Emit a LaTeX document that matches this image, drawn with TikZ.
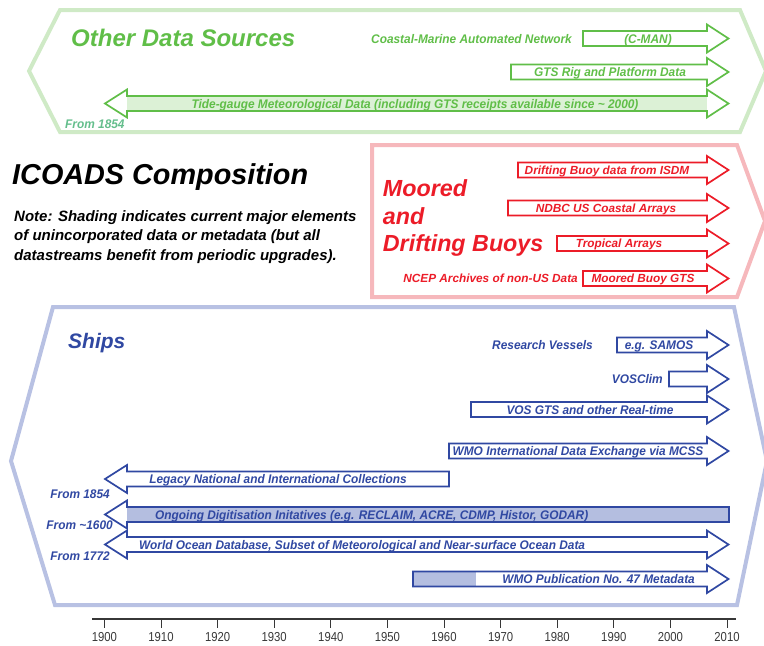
\documentclass[tikz,border=0pt]{standalone}
\usepackage{fontspec}
\setmainfont{Liberation Sans}
\newfontfamily\condf[FakeStretch=0.95]{Liberation Sans}
\newfontfamily\numf[FakeStretch=0.87]{Liberation Sans}
\definecolor{grn}{RGB}{96,190,72}
\definecolor{grnlt}{RGB}{207,234,198}
\definecolor{grnfill}{RGB}{220,241,214}
\definecolor{grnteal}{RGB}{100,190,140}
\definecolor{rd}{RGB}{236,28,40}
\definecolor{rdlt}{RGB}{246,184,188}
\definecolor{blu}{RGB}{48,72,162}
\definecolor{blult}{RGB}{184,193,227}
\definecolor{blufill}{RGB}{180,190,224}
\definecolor{axc}{RGB}{55,55,55}
\newcommand\rarr[4]{\draw[#4] (#1,#3-7.5) -- (#2,#3-7.5) -- (#2,#3-14) -- (#2+21.5,#3) -- (#2,#3+14) -- (#2,#3+7.5) -- (#1,#3+7.5) -- cycle;}
\newcommand\darr[4]{\draw[#4] (#1,#3) -- (#1+22,#3-14) -- (#1+22,#3-7.5) -- (#2,#3-7.5) -- (#2,#3-14) -- (#2+21.5,#3) -- (#2,#3+14) -- (#2,#3+7.5) -- (#1+22,#3+7.5) -- (#1+22,#3+14) -- cycle;}
\newcommand\larr[4]{\draw[#4] (#1,#3) -- (#1+22,#3-14) -- (#1+22,#3-7.5) -- (#2,#3-7.5) -- (#2,#3+7.5) -- (#1+22,#3+7.5) -- (#1+22,#3+14) -- cycle;}
\tikzset{
  arrline/.style={line width=1.7pt, line join=miter},
  garr/.style={arrline, draw=grn},
  rarrow/.style={arrline, draw=rd},
  barr/.style={arrline, draw=blu},
  panel/.style={line width=4pt, line join=miter},
  small/.style={inner sep=0pt, anchor=base, font=\condf\bfseries\itshape\fontsize{12.5}{14}\selectfont},
  glbl/.style={small, text=grn},
  blbl/.style={small, text=blu},
  rlbl/.style={inner sep=0pt, anchor=base, text=rd, font=\bfseries\itshape\fontsize{11.8}{14}\selectfont},
  yearlbl/.style={inner sep=0pt, anchor=base, text=axc, font=\numf\fontsize{13}{14}\selectfont},
}
\begin{document}
\begin{tikzpicture}[x=1pt,y=-1pt]
\useasboundingbox (0,0) rectangle (764,646);
% ---------- green panel ----------
\draw[panel, draw=grnlt] (60,10) -- (740,10) -- (766,71) -- (740,132) -- (60,132) -- (29,71) -- cycle;
\node[anchor=base west, inner sep=0pt, text=grn, font=\bfseries\itshape\fontsize{24}{28}\selectfont] (gtitle) at (71,46.7) {Other Data Sources};
\rarr{583}{707}{38.5}{garr}
\node[glbl, anchor=base east] (cmanlbl) at (572,43) {Coastal-Marine Automated Network};
\node[glbl] (cman) at (648,43) {(C-MAN)};
\rarr{511}{707}{72}{garr}
\node[glbl] (gtsrig) at (610,76.5) {GTS Rig and Platform Data};
\fill[grnfill] (127,96) rectangle (707,111);
\darr{105}{707}{103.5}{garr}
\node[glbl] (tide) at (415,108) {Tide-gauge Meteorological Data (including GTS receipts available since \textasciitilde{} 2000)};
\node[small, anchor=base west, text=grnteal] (gfrom) at (65,128.5) {From 1854};
% ---------- title and note ----------
\node[anchor=base west, inner sep=0pt, font=\bfseries\itshape\fontsize{28.8}{32}\selectfont] (title) at (12,184.5) {ICOADS Composition};
\node[anchor=base west, inner sep=0pt, align=left, font=\bfseries\itshape\fontsize{15}{19.5}\selectfont] (note) at (14,260) {Note: Shading indicates current major elements\\of unincorporated data or metadata (but all\\datastreams benefit from periodic upgrades).};
% ---------- red panel ----------
\draw[panel, draw=rdlt] (372,145) -- (737,145) -- (765,221) -- (737,297) -- (372,297) -- cycle;
\node[anchor=base west, inner sep=0pt, align=left, text=rd, font=\bfseries\itshape\fontsize{23.3}{27.5}\selectfont] (rtitle) at (382.7,251.7) {Moored\\and\\Drifting Buoys};
\rarr{518}{707}{170}{rarrow}
\node[rlbl] (isdm) at (607,174.2) {Drifting Buoy data from ISDM};
\rarr{508}{707}{208}{rarrow}
\node[rlbl] (ndbc) at (606,212.2) {NDBC US Coastal Arrays};
\rarr{557}{707}{243.5}{rarrow}
\node[rlbl] (trop) at (619,247.7) {Tropical Arrays};
\rarr{583}{707}{278.5}{rarrow}
\node[rlbl] (mgts) at (643,282.7) {Moored Buoy GTS};
\node[rlbl, anchor=base east] (ncep) at (578,282.7) {NCEP Archives of non-US Data};
% ---------- blue panel ----------
\draw[panel, draw=blult] (53,307) -- (734,307) -- (767,461) -- (737,605) -- (55,605) -- (11,461) -- cycle;
\node[anchor=base west, inner sep=0pt, text=blu, font=\bfseries\itshape\fontsize{21}{24}\selectfont] (ships) at (68,348.5) {Ships};
\rarr{617}{707}{345}{barr}
\node[blbl, anchor=base east] (rv) at (593,349.5) {Research Vessels};
\node[blbl] (samos) at (659,349.5) {e.g. SAMOS};
\rarr{669}{707}{379}{barr}
\node[blbl, anchor=base east] (vosclim) at (663,383.5) {VOSClim};
\rarr{471}{707}{409.5}{barr}
\node[blbl] (vosgts) at (590,414) {VOS GTS and other Real-time};
\rarr{449}{707}{451}{barr}
\node[blbl] (mcss) at (578,455.5) {WMO International Data Exchange via MCSS};
\larr{105}{449}{479}{barr}
\node[blbl] (legacy) at (278,483.5) {Legacy National and International Collections};
\node[blbl, anchor=base east] (from1) at (110,498.5) {From 1854};
\fill[blufill] (127,507) rectangle (729,522);
\larr{105}{729}{514.5}{barr}
\node[blbl, anchor=base west] (ongoing) at (155,519) {Ongoing Digitisation Initatives (e.g. RECLAIM, ACRE, CDMP, Histor, GODAR)};
\node[blbl, anchor=base east] (from2) at (113,529.5) {From \textasciitilde1600};
\darr{105}{707}{544.5}{barr}
\node[blbl, anchor=base west] (wod) at (139,549) {World Ocean Database, Subset of Meteorological and Near-surface Ocean Data};
\node[blbl, anchor=base east] (from3) at (110,560.5) {From 1772};
\fill[blufill] (413,571.5) rectangle (476,586.5);
\rarr{413}{707}{579}{barr}
\node[blbl, anchor=base east] (wmo47) at (695,583.5) {WMO Publication No. 47 Metadata};
% ---------- axis ----------
\coordinate (axl) at (92,619);
\coordinate (axr) at (736,619);
\draw[axc, line width=1.1pt] (axl) -- (axr);
\foreach \yr [count=\i from 0] in {1900,1910,...,2010} {
  \draw[axc, line width=1pt] ({104.4+\i*56.6},619) -- ++(0,9);
  \node[yearlbl] (yr\yr) at ({104.4+\i*56.6},641) {\yr};
}
\end{tikzpicture}
\end{document}
